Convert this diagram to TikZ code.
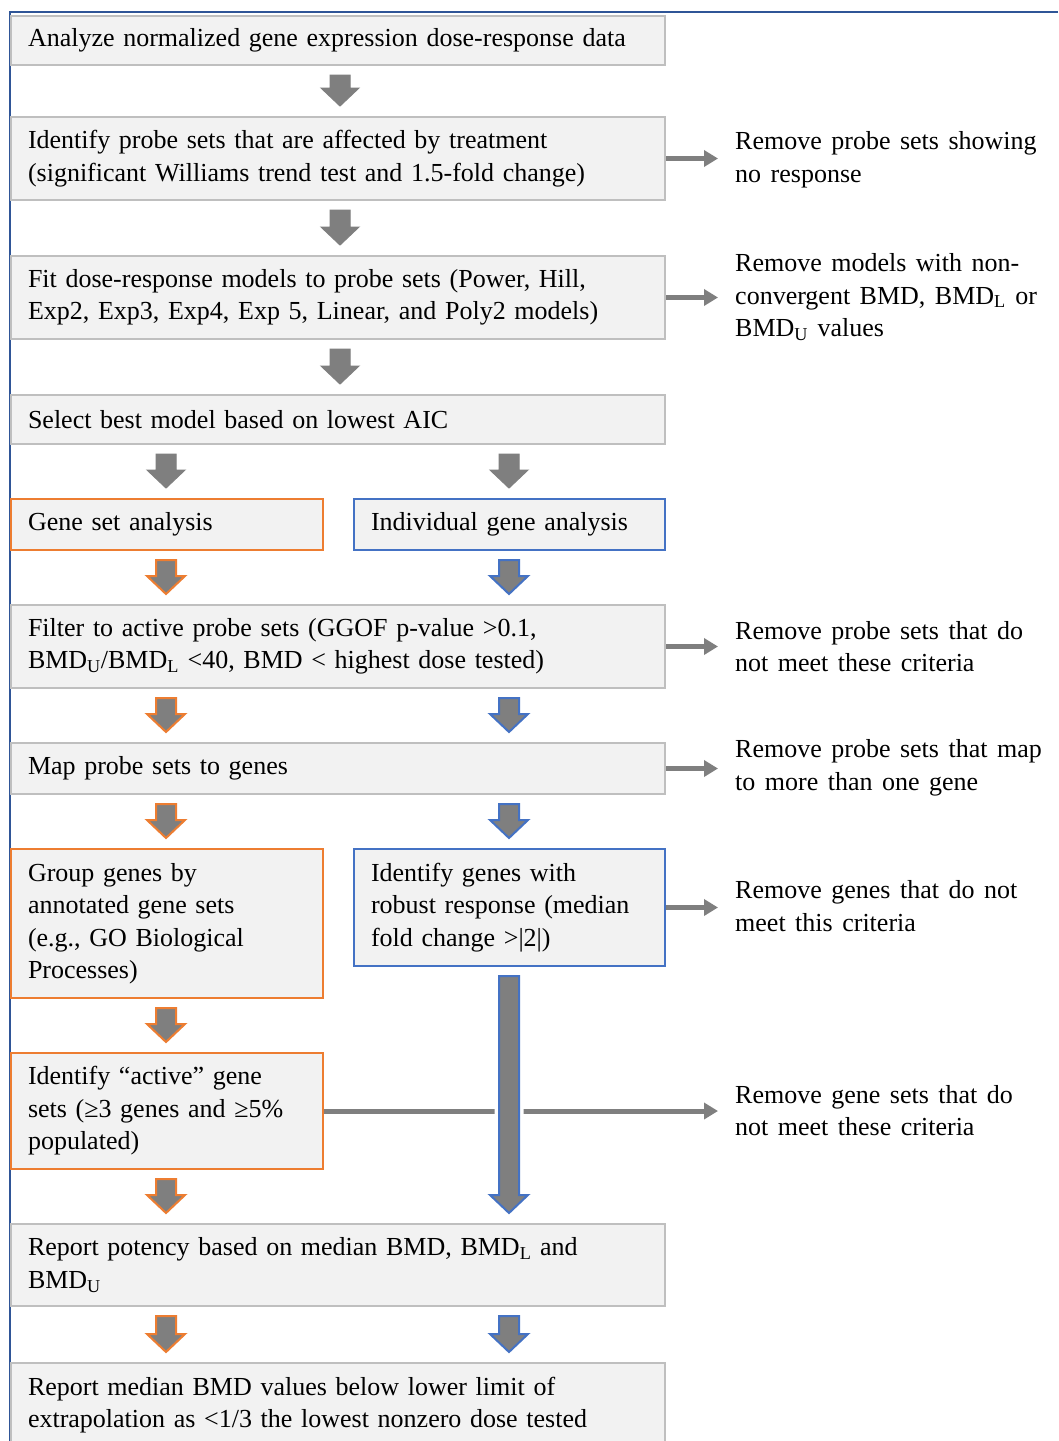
\documentclass[tikz,border=0pt]{standalone}
\usepackage{fontspec}
\setmainfont{Liberation Serif}
\usetikzlibrary{calc,arrows.meta}
\definecolor{agray}{HTML}{7F7F7F}
\definecolor{orng}{HTML}{ED7D31}
\definecolor{blu}{HTML}{4472C4}
\definecolor{frm}{HTML}{2F5597}
\definecolor{bfill}{HTML}{F2F2F2}
\definecolor{bline}{HTML}{BFBFBF}
\newcommand\myTxtFont{\fontsize{26}{32.5}\selectfont\spaceskip=9.5pt plus 2pt minus 1pt\relax}
\newcommand\blkarr[4]{\path[#1] let \p1=($(#2.south -| #4)+(0,9)$), \p2=($(#3.north -| #4)+(0,-10)$) in (\x1-10pt,\y1) -- (\x1+10pt,\y1) -- (\x1+10pt,\y2+18pt) -- (\x1+19pt,\y2+18pt) -- (\x1,\y2) -- (\x1-19pt,\y2+18pt) -- (\x1-10pt,\y2+18pt) -- cycle;}
\tikzset{
  txt/.style={font=\myTxtFont},
  box/.style={txt, draw=bline, fill=bfill, line width=2pt, anchor=north west, inner xsep=17pt, inner ysep=0pt, align=left},
  obox/.style={box, draw=orng},
  bbox/.style={box, draw=blu},
  rem/.style={txt, anchor=west, inner sep=0pt, align=left},
  graybk/.style={fill=agray, draw=agray, line width=1pt},
  orbk/.style={fill=agray, draw=orng, line width=2pt},
  blbk/.style={fill=agray, draw=blu, line width=2pt},
  halo/.style={preaction={draw=white, line width=9pt}},
  sarr/.style={draw=agray, line width=5pt, -{Triangle[width=16pt,length=14pt]}, shorten >=17pt},
  frame/.style={draw=frm, line width=2pt}
}
\begin{document}
\begin{tikzpicture}[x=1pt,y=-1pt]
\clip (0,0) rectangle (1058,1441);
\fill[white] (0,0) rectangle (1058,1441);
\coordinate (fa) at (10,12);
\coordinate (fb) at (1058,12);
\coordinate (fc) at (10,1441);
\draw[frame] (fb) -- (fa) -- (fc);
\coordinate (cM) at (340,0);
\coordinate (cL) at (166,0);
\coordinate (cR) at (509,0);
% boxes
\node[box, text width=620pt, minimum height=49pt] (b1) at (10,15) {Analyze normalized gene expression dose-response data};
\node[box, text width=620pt, minimum height=83pt] (b2) at (10,116) {Identify probe sets that are affected by treatment\\(significant Williams trend test and 1.5-fold change)};
\node[box, text width=620pt, minimum height=83pt] (b3) at (10,255) {Fit dose-response models to probe sets (Power, Hill,\\Exp2, Exp3, Exp4, Exp 5, Linear, and Poly2 models)};
\node[box, text width=620pt, minimum height=49pt] (b4) at (10,394) {Select best model based on lowest AIC};
\node[obox, text width=278pt, minimum height=51pt] (b5a) at (10,498) {Gene set analysis};
\node[bbox, text width=277pt, minimum height=51pt] (b5b) at (353,498) {Individual gene analysis};
\node[box, text width=620pt, minimum height=83pt] (b6) at (10,604) {Filter to active probe sets (GGOF p-value >0.1,\\BMD\textsubscript{U}/BMD\textsubscript{L} <40, BMD < highest dose tested)};
\node[box, text width=620pt, minimum height=51pt] (b7) at (10,742) {Map probe sets to genes};
\node[obox, text width=278pt, minimum height=149pt] (b8a) at (10,848) {Group genes by\\annotated gene sets\\(e.g., GO Biological\\Processes)};
\node[bbox, text width=277pt, minimum height=117pt] (b8b) at (353,848) {Identify genes with\\robust response (median\\fold change >|2|)};
\node[obox, text width=278pt, minimum height=116pt] (b9) at (10,1052) {Identify “active” gene\\sets (≥3 genes and ≥5\%\\populated)};
\node[box, text width=620pt, minimum height=82pt] (b10) at (10,1223) {Report potency based on median BMD, BMD\textsubscript{L} and\\BMD\textsubscript{U}};
\node[box, text width=620pt, minimum height=84pt] (b11) at (10,1362) {Report median BMD values below lower limit of\\extrapolation as <1/3 the lowest nonzero dose tested};
% remarks
\node[rem] (r2) at (735,159.5) {Remove probe sets showing\\no response};
\node[rem] (r3) at (735,297) {Remove models with non-\\convergent BMD, BMD\textsubscript{L} or\\BMD\textsubscript{U} values};
\node[rem] (r6) at (735,646.5) {Remove probe sets that do\\not meet these criteria};
\node[rem] (r7) at (735,768) {Remove probe sets that map\\to more than one gene};
\node[rem] (r8) at (735,906) {Remove genes that do not\\meet this criteria};
\node[rem] (r9) at (735,1110.5) {Remove gene sets that do\\not meet these criteria};
% side arrows
\draw[sarr] (b2.east) -- (b2.east -| r2.west);
\draw[sarr] (b3.east) -- (b3.east -| r3.west);
\draw[sarr] (b6.east) -- (b6.east -| r6.west);
\draw[sarr] (b7.east) -- (b7.east -| r7.west);
\draw[sarr] (b8b.east) -- (b8b.east -| r8.west);
\draw[sarr] (b9.east) -- (b9.east -| r9.west);
% block arrows
\blkarr{graybk}{b1}{b2}{cM}
\blkarr{graybk}{b2}{b3}{cM}
\blkarr{graybk}{b3}{b4}{cM}
\blkarr{graybk}{b4}{b5a}{cL}
\blkarr{graybk}{b4}{b5b}{cR}
\blkarr{orbk}{b5a}{b6}{cL}
\blkarr{blbk}{b5b}{b6}{cR}
\blkarr{orbk}{b6}{b7}{cL}
\blkarr{blbk}{b6}{b7}{cR}
\blkarr{orbk}{b7}{b8a}{cL}
\blkarr{blbk}{b7}{b8b}{cR}
\blkarr{orbk}{b8a}{b9}{cL}
\blkarr{blbk,halo}{b8b}{b10}{cR}
\blkarr{orbk}{b9}{b10}{cL}
\blkarr{orbk}{b10}{b11}{cL}
\blkarr{blbk}{b10}{b11}{cR}
\end{tikzpicture}
\end{document}
